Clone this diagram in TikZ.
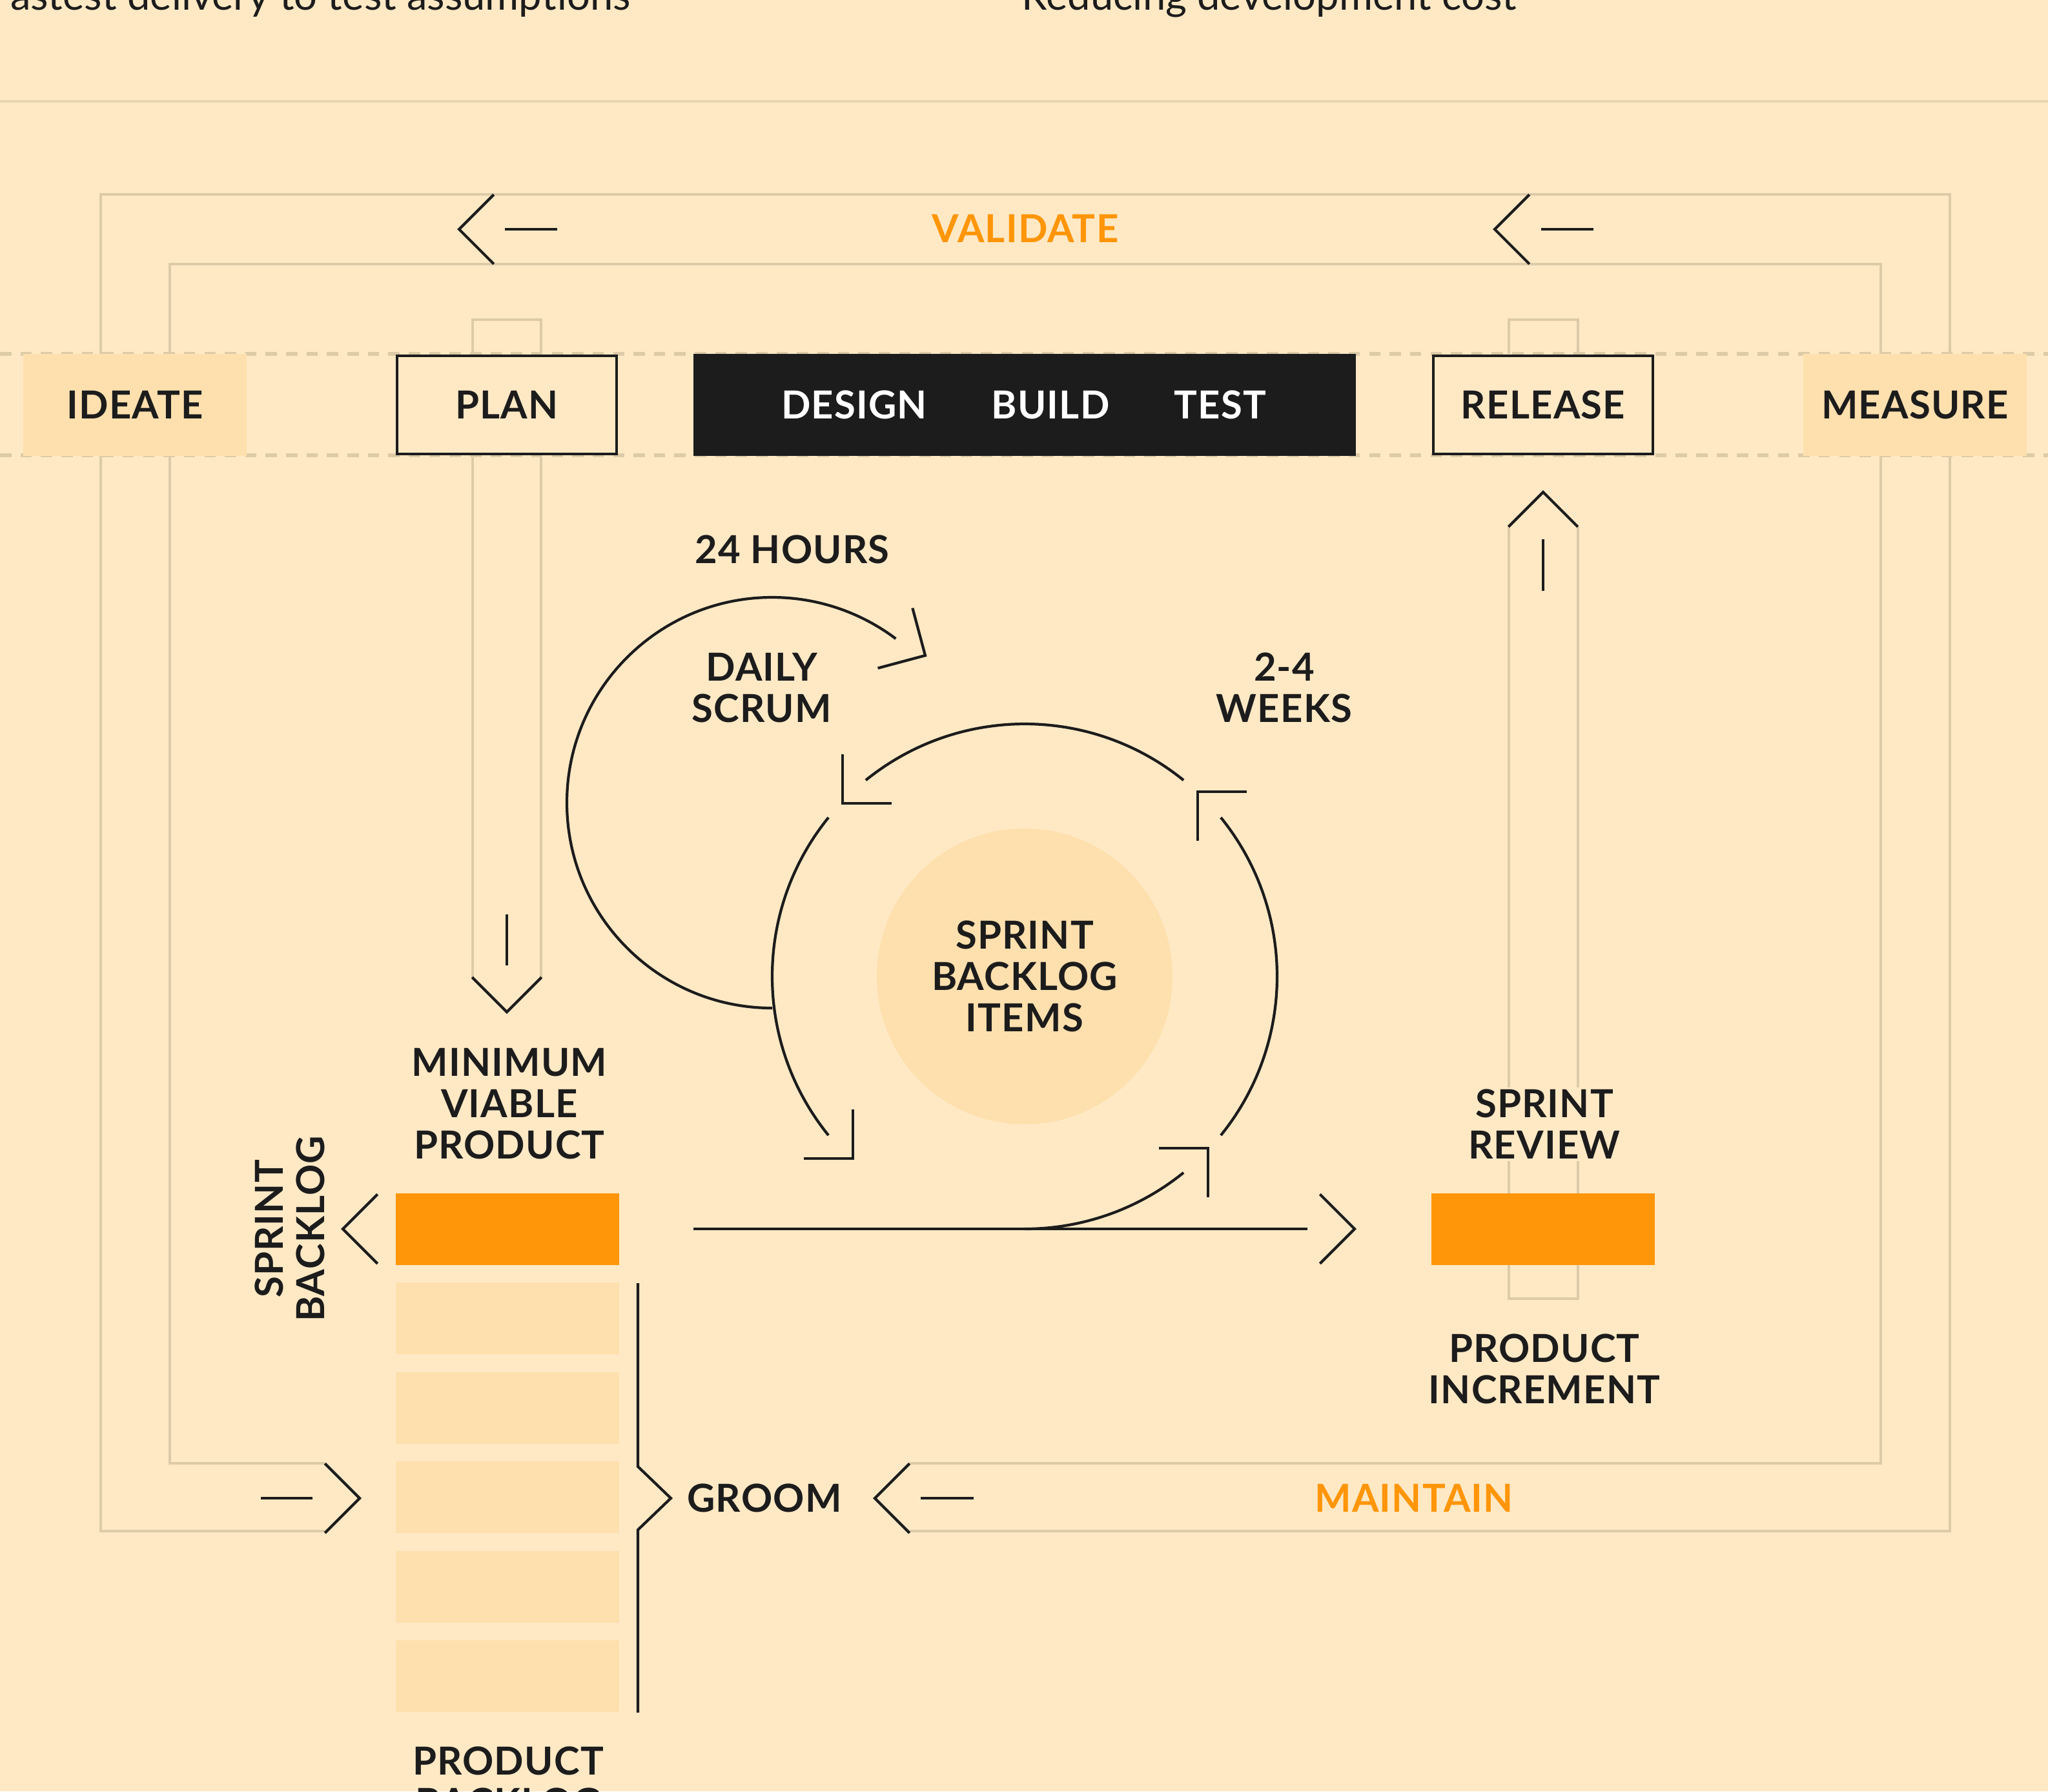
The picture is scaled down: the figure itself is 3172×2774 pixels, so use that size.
\documentclass[tikz,border=0pt]{standalone}
\usepackage{fontspec}
\setmainfont{Lato}[LetterSpace=2]

\definecolor{paper}{RGB}{255,233,197}
\definecolor{sand}{RGB}{254,224,174}
\definecolor{rule}{RGB}{221,203,168}
\definecolor{ink}{RGB}{28,28,28}
\definecolor{tangerine}{RGB}{255,149,8}

% open 90 degree head: tip at #1, pointing along angle #2
\newcommand{\headat}[2]{\draw[ink line] (#1) ++(#2+135:76) -- (#1) -- ++(#2-135:76);}

\begin{document}
\begin{tikzpicture}[
		x=0.01cm, y=-0.01cm,
		every node/.style={inner sep=0pt, text=ink, align=center,
			font=\fontsize{17}{18.2}\selectfont\bfseries},
		ink line/.style={draw=ink, line width=1.2pt},
		track/.style={draw=rule, line width=1.3pt},
		tile/.style={fill=sand, minimum width=3.46cm, minimum height=1.57cm},
		stage/.style={draw=ink, fill=paper, line width=1.3pt, minimum width=3.40cm, minimum height=1.52cm},
		item/.style={fill=sand, minimum width=3.46cm, minimum height=1.11cm},
		done/.style={fill=tangerine, minimum width=3.46cm, minimum height=1.11cm},
		goal/.style={font=\fontsize{18}{21}\selectfont\addfontfeature{LetterSpace=0}, anchor=base west}
	]
  \useasboundingbox (0,0) rectangle (3172,2774);
  \clip (0,0) rectangle (3172,2774);
  \fill[paper] (0,0) rectangle (3172,2774);

  % goals, cut by the top edge
  \node (goal_a) [goal] at (-16,15) {Fastest delivery to test assumptions};
  \node (goal_b) [goal] at (1582,15) {Reducing development cost};
  \draw[rule!70!paper, line width=1.4pt] (0,157) -- (3172,157);

  % stage row
  \draw[rule, line width=1.6pt, dash pattern=on 5pt off 4pt] (0,548) -- (3172,548);
  \draw[rule, line width=1.6pt, dash pattern=on 5pt off 4pt] (0,705) -- (3172,705);

  % validate / maintain loop
  \draw[track] (503,2371) -- (156,2371) -- (156,301) -- (3020,301) -- (3020,2371) -- (1409,2371);
  \draw[track] (503,2266) -- (263,2266) -- (263,409) -- (2913,409) -- (2913,2266) -- (1409,2266);
  \draw[track] (732,1515) -- (732,495) -- (838,495) -- (838,1515);
  \draw[track] (2337,548) -- (2337,495) -- (2444,495) -- (2444,548);
  \draw[track] (2337,816) -- (2337,2011) -- (2444,2011) -- (2444,816);

  \node (ideate) [tile] at (209,627) {IDEATE};
  \node (plan) [stage] at (785,627) {PLAN};
  \node (dbt) [fill=ink, minimum width=10.26cm, minimum height=1.57cm] at (1587,627) {};
  \node (design) [text=white] at (1323,627) {DESIGN};
  \node (build) [text=white] at (1627,627) {BUILD};
  \node (test) [text=white] at (1890,627) {TEST};
  \node (release) [stage] at (2390,627) {RELEASE};
  \node (measure) [tile] at (2966,627) {MEASURE};

  \node (validate) [text=tangerine] at (1588,354) {VALIDATE};
  \node (maintain) [text=tangerine] at (2190,2320) {MAINTAIN};
  \node (groom) at (1184,2320) {GROOM};

  \headat{711,355}{180}
  \draw[ink line] (782,355) -- (863,355);
  \headat{2315,355}{180}
  \draw[ink line] (2387,355) -- (2468,355);
  \headat{557,2320}{0}
  \draw[ink line] (404,2320) -- (484,2320);
  \headat{1355,2320}{180}
  \draw[ink line] (1426,2320) -- (1508,2320);
  \headat{785,1567}{90}
  \draw[ink line] (785,1416) -- (785,1495);
  \headat{2390,762}{270}
  \draw[ink line] (2390,835) -- (2390,915);

  % sprint cycle
  \coordinate (ring) at (1587,1512);
  \coordinate (scrum) at (1196,1243);
  \node (sbi) [circle, fill=sand, minimum size=4.58cm] at (ring) {SPRINT\\BACKLOG\\ITEMS};
  \draw[ink line] (ring) ++(309:391) arc[start angle=309, end angle=231, radius=391];
  \draw[ink line] (ring) ++(219:391) arc[start angle=219, end angle=141, radius=391];
  \draw[ink line] (ring) ++(90:391) arc[start angle=90, end angle=51, radius=391];
  \draw[ink line] (ring) ++(39:391) arc[start angle=39, end angle=-39, radius=391];
  \headat{1305,1244}{135}
  \headat{1321,1794}{45}
  \headat{1871,1778}{-45}
  \headat{1855,1226}{225}
  \draw[ink line] (scrum) ++(90:318) arc[start angle=90, end angle=307, radius=318];
  \headat{1433,1015}{30}

  \coordinate (flow_in) at (1074,1903);
  \coordinate (flow_out) at (2025,1903);
  \draw[ink line] (flow_in) -- (flow_out);
  \headat{2098,1903}{0}

  % backlog column
  \node (mvp) [done] at (786,1903) {};
  \foreach \i in {1,...,5} \node (item\i) [item] at (786,1903+138.5*\i) {};
  \node (increment) [done] at (2390,1903) {};
  \headat{531,1903}{180}
  \draw[ink line] (988,1987) -- (988,2271) -- (1039,2320) -- (988,2369) -- (988,2652);

  \node (hours) at (1227,851) {24 HOURS};
  \node (daily) at (1180,1065) {DAILY\\SCRUM};
  \node (weeks) at (1989,1065) {2-4\\WEEKS};
  \node (mvp_label) at (789,1709) {MINIMUM\\VIABLE\\PRODUCT};
  \node (review) [fill=paper, inner ysep=0.03cm] at (2392,1741) {SPRINT\\REVIEW};
  \node (incr_label) at (2392,2120) {PRODUCT\\INCREMENT};
  \node (backlog_label) at (787,2759) {PRODUCT\\BACKLOG};
  \node (sprint_label) [rotate=90] at (449,1903) {SPRINT\\BACKLOG};
\end{tikzpicture}
\end{document}
